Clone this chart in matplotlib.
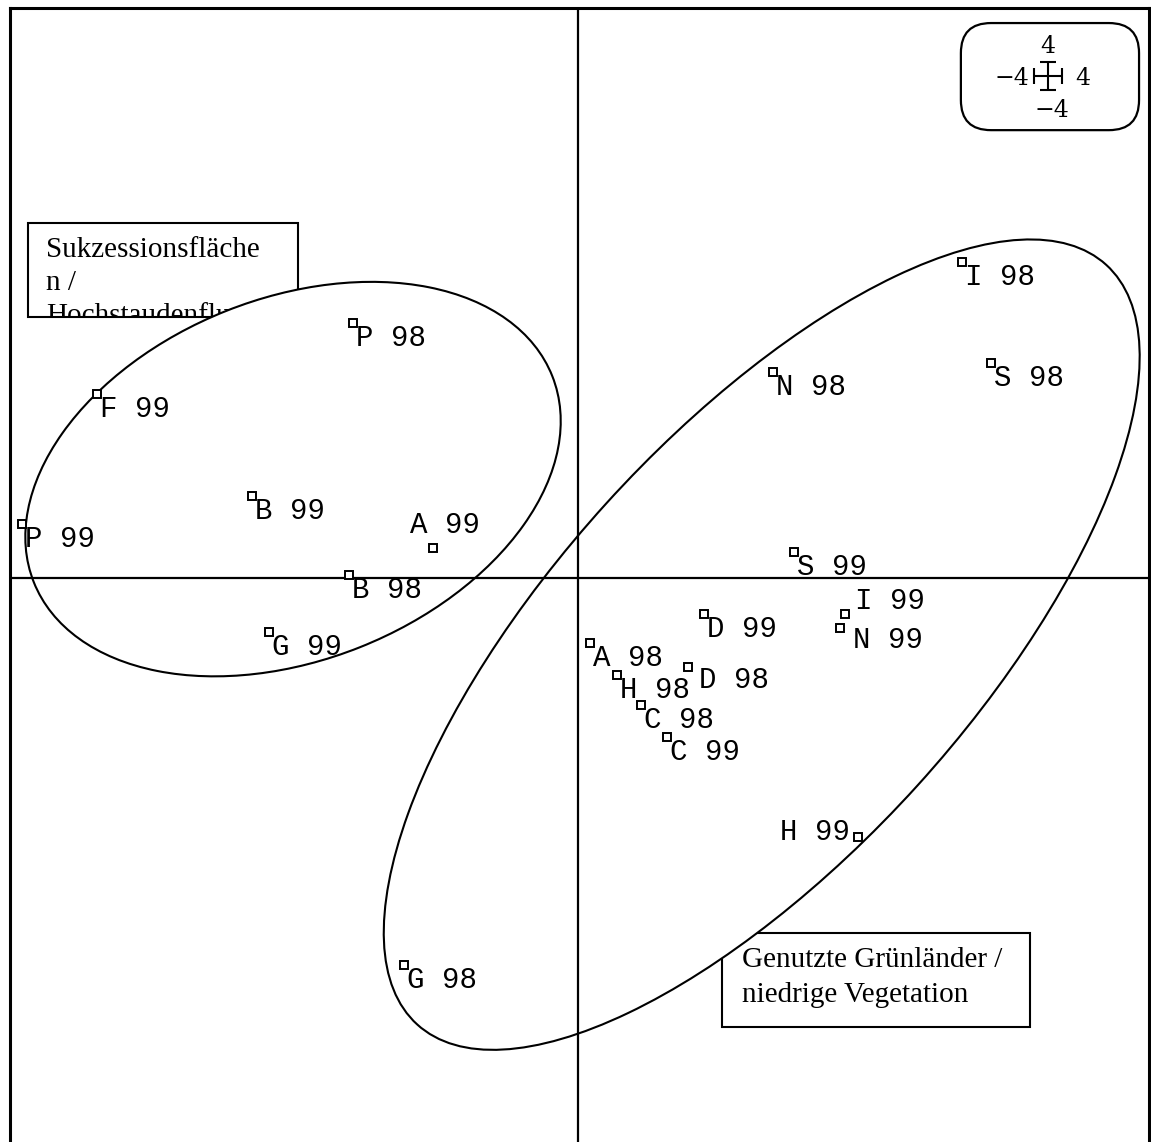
import matplotlib
matplotlib.use("Agg")
import matplotlib.pyplot as plt
from matplotlib.patches import Ellipse, Rectangle, FancyBboxPatch

# site scores (axis 1 / axis 2)
sites = ["P 99", "F 99", "B 99", "P 98", "A 99", "B 98", "G 99", "G 98",
         "A 98", "H 98", "C 98", "C 99", "D 99", "D 98", "I 99", "N 99",
         "S 99", "N 98", "I 98", "S 98", "H 99"]
axis1 = [-158.9, -137.4, -93.1, -64.3, -41.4, -65.4, -88.3, -49.7,
         3.4, 11.1, 18.0, 25.4, 36.0, 31.4, 76.3, 74.9,
         61.7, 55.7, 109.7, 118.0, 80.0]
axis2 = [15.4, 52.6, 23.4, 72.9, 8.6, 0.9, -15.4, -110.6,
         -18.6, -27.7, -36.3, -45.4, -10.3, -25.4, -10.3, -14.3,
         7.4, 58.9, 90.3, 61.4, -74.0]

group1_lines = ["Sukzessionsfläche", "n /", "Hochstaudenfluren"]
group2_lines = ["Genutzte Grünländer /", "niedrige Vegetation"]
scale_len = 4

# label placement (pixels) where it differs from the default
default_off = (3, -23, "left")
label_off = {"A 99": (-23, 15, "left"), "D 98": (11, -21, "left"),
             "I 99": (10, 5, "left"), "N 99": (13, -20, "left"),
             "H 99": (-8, -3, "right")}

fig = plt.figure(figsize=(11.51, 11.42), dpi=100)
ax = fig.add_axes([9.5 / 1151, 0, 1139 / 1151, 1134 / 1142])
ax.set_xlim(-162.4, 163.0)
ax.set_ylim(-161.1, 162.9)
ax.set_xticks([])
ax.set_yticks([])
ax.spines["bottom"].set_visible(False)
for s in ["left", "top", "right"]:
    ax.spines[s].set_linewidth(2.2)

ax.axhline(0, color="black", lw=1.6, zorder=3)
ax.axvline(0, color="black", lw=1.6, zorder=3)

# group boxes (partly covered by the ellipses)
serif = ["Liberation Serif", "DejaVu Serif"]
box1 = Rectangle((-157.1, 74.6), 77.1, 26.8, fc="white", ec="black", lw=1.5, zorder=1)
ax.add_patch(box1)
for i, t in enumerate(group1_lines):
    tx = ax.text(-152.0, 91.7 - 9.4 * i, t, fontsize=21, family=serif,
                 va="baseline", ha="left", zorder=1.5, clip_on=True)
    tx.set_clip_path(box1)
box2 = Rectangle((41.1, -128.3), 88.0, 26.9, fc="white", ec="black", lw=1.5, zorder=1)
ax.add_patch(box2)
for i, t in enumerate(group2_lines):
    ax.text(46.9, -111.1 - 10.0 * i, t, fontsize=21, family=serif,
            va="baseline", ha="left", zorder=1.5)

# ellipses: white fill below, outlines above
ell = [((-81.4, 28.3), 159.4, 103.4, 21.7), ((52.5, -19.0), 293.0, 120.0, 47.8)]
for c, w, h, a in ell:
    ax.add_patch(Ellipse(c, w, h, angle=a, fc="white", ec="none", zorder=2))
for c, w, h, a in ell:
    ax.add_patch(Ellipse(c, w, h, angle=a, fc="none", ec="black", lw=1.5, zorder=3))

# sites
ax.plot(axis1, axis2, ls="none", marker="s", ms=5.5, mfc="white", mec="black",
        mew=1.4, zorder=5)
for lab, x, y in zip(sites, axis1, axis2):
    dx, dy, ha = label_off.get(lab, default_off)
    ax.annotate(lab, (x, y), xytext=(dx, dy), textcoords="offset pixels",
                ha=ha, va="baseline", fontsize=21, family="Liberation Mono",
                zorder=6)

# scale box
ax.add_patch(FancyBboxPatch((109.4, 128.0), 50.9, 30.6,
                            boxstyle="round,pad=0,rounding_size=8.6",
                            fc="white", ec="black", lw=1.6, zorder=4))
cx, cy = 134.3, 143.4
ax.errorbar([cx], [cy], xerr=scale_len, yerr=scale_len, fmt="none",
            ecolor="black", elinewidth=1.5, capsize=5.5, capthick=1.5, zorder=5)
sfont = dict(fontsize=17, family=["DejaVu Serif"], va="baseline", zorder=6)
ax.text(cx, 150.0, str(scale_len), ha="center", **sfont)
ax.text(129.1, 140.9, "\u2212" + str(scale_len), ha="right", **sfont)
ax.text(142.0, 140.9, str(scale_len), ha="left", **sfont)
ax.text(135.3, 131.7, "\u2212" + str(scale_len), ha="center", **sfont)

fig.savefig("out.png", dpi=100)
